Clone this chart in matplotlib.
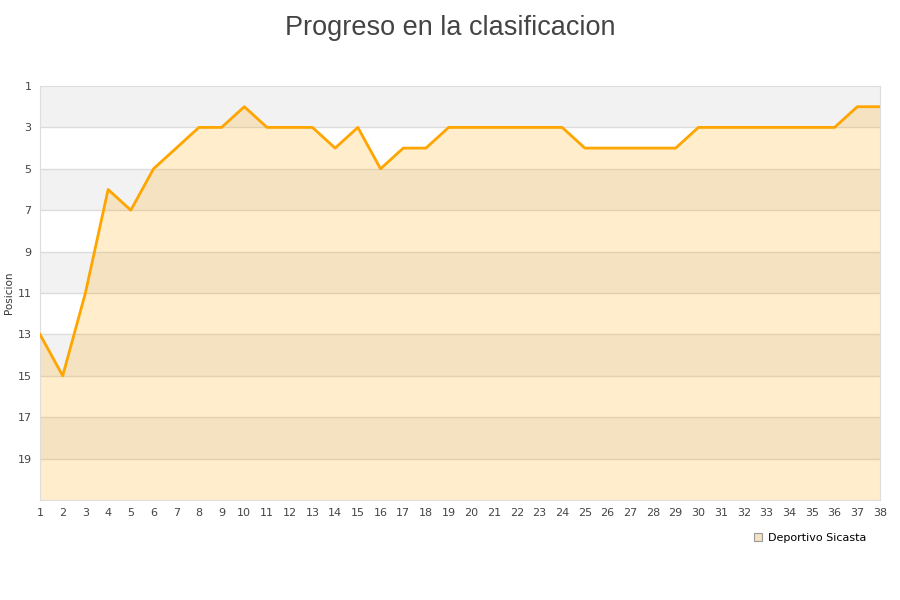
import numpy as np
import matplotlib.pyplot as plt
from matplotlib.lines import Line2D

# Datos
jornadas = list(range(1, 39))
posiciones = [13, 15, 11, 6, 7, 5, 4, 3, 3, 2, 3, 3, 3, 4, 3, 5, 4, 4, 3, 3,
              3, 3, 3, 3, 4, 4, 4, 4, 4, 3, 3, 3, 3, 3, 3, 3, 2, 2]
equipo = 'Deportivo Sicasta'
y_ticks = list(range(1, 21, 2))

fig = plt.figure(figsize=(9, 6), dpi=100)
ax = fig.add_axes([40 / 900, 100 / 600, 840 / 900, 414 / 600])

# alternating background bands
for y0 in range(1, 21, 4):
    ax.axhspan(y0, y0 + 2, color='#f2f2f2', zorder=0, lw=0)
for y in y_ticks[1:]:
    ax.axhline(y, color='#dcdcdc', lw=1, zorder=1)

ax.fill_between(jornadas, posiciones, 21, color='#ffa500', alpha=0.2, lw=0, zorder=2)
ax.plot(jornadas, posiciones, color='#ffa500', lw=2, zorder=3)

ax.set_xlim(1, 38)
ax.set_ylim(21, 1)
ax.set_xticks(jornadas)
ax.set_yticks(y_ticks)
ax.tick_params(length=0, labelsize=8, labelcolor='#444444', pad=6)
ax.tick_params(axis='y', pad=6)
for s in ax.spines.values():
    s.set_color('#dddddd')

fig.text(9 / 900, 1 - 293 / 600, 'Posicion', rotation=90, ha='center', va='center',
         fontsize=7.5, color='#333333')
fig.text(0.5, 0.975, 'Progreso en la clasificacion', ha='center', va='top',
         fontsize=19.5, color='#444444', family='Liberation Sans')

handle = Line2D([], [], marker='s', ls='', markersize=6,
                markerfacecolor='#f5e2c0', markeredgecolor='#999999', markeredgewidth=0.8)
fig.legend([handle], [equipo], loc='center left', bbox_to_anchor=(742 / 900, 1 - 538 / 600),
           frameon=False, fontsize=8, handletextpad=0.4, handlelength=1)

fig.savefig('out.png')
